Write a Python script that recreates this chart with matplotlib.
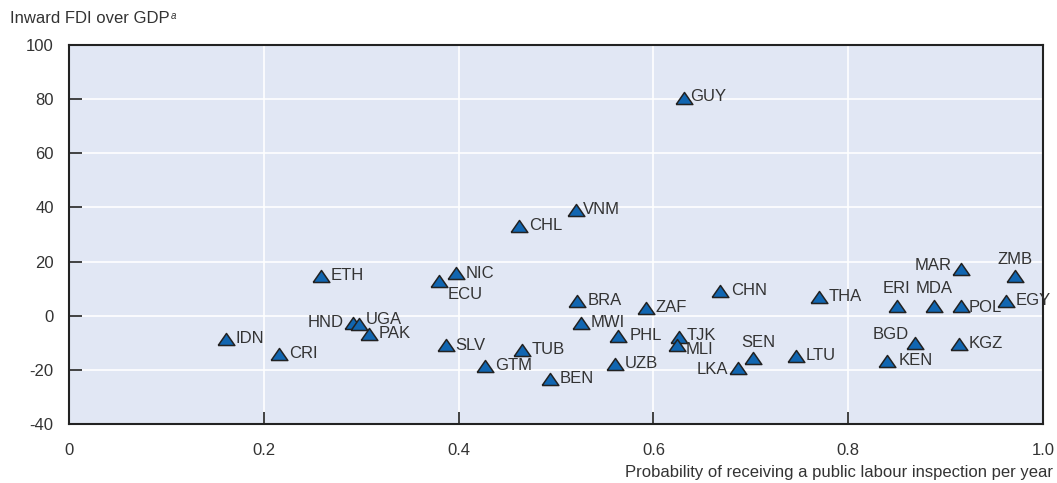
import matplotlib
matplotlib.use("Agg")
from matplotlib import pyplot as plt

# countries and values
codes = ["IDN", "CRI", "ETH", "HND", "UGA", "PAK", "SLV", "ECU", "NIC", "GTM",
         "TUB", "BEN", "CHL", "VNM", "BRA", "MWI", "PHL", "UZB", "ZAF", "GUY",
         "TJK", "MLI", "CHN", "LKA", "SEN", "LTU", "THA", "ERI", "MDA", "POL",
         "MAR", "ZMB", "EGY", "BGD", "KEN", "KGZ"]
inspection_prob = [0.161, 0.216, 0.259, 0.292, 0.298, 0.308, 0.387, 0.380, 0.397, 0.427,
                   0.465, 0.494, 0.462, 0.520, 0.522, 0.526, 0.564, 0.561, 0.592, 0.631,
                   0.626, 0.624, 0.668, 0.687, 0.702, 0.746, 0.770, 0.850, 0.888, 0.916,
                   0.916, 0.971, 0.962, 0.869, 0.840, 0.914]
fdi_gdp = [-8.5, -14.0, 14.8, -2.6, -3.0, -6.7, -11.0, 13.0, 15.6, -18.5,
           -12.6, -23.3, 33.3, 38.9, 5.6, -2.6, -7.4, -17.8, 3.0, 80.4,
           -7.8, -11.0, 9.3, -19.3, -15.6, -14.8, 7.0, 3.7, 3.7, 3.7,
           17.4, 14.8, 5.6, -10.0, -16.7, -10.4]

x_ticks = [0, 0.2, 0.4, 0.6, 0.8, 1.0]
x_tick_labels = ["0", "0.2", "0.4", "0.6", "0.8", "1.0"]
y_ticks = [-40, -20, 0, 20, 40, 60, 80, 100]

# label placement (offset in points, alignment) - default is right of marker
label_place = {
    "HND": ((-7, 0), "right", "center"),
    "MAR": ((-7, 2), "right", "center"),
    "LKA": ((-7, -1), "right", "center"),
    "BGD": ((-5, 6), "right", "center"),
    "ERI": ((0, 7), "center", "bottom"),
    "MDA": ((0, 7), "center", "bottom"),
    "ZMB": ((0, 6), "center", "bottom"),
    "SEN": ((4, 6), "center", "bottom"),
    "ECU": ((6, -10), "left", "center"),
    "MLI": ((6, -3), "left", "center"),
    "UGA": ((5, 3), "left", "center"),
    "TJK": ((6, 1), "left", "center"),
    "POL": ((5, -1), "left", "center"),
    "VNM": ((5, 1), "left", "center"),
    "GUY": ((5, 1), "left", "center"),
    "PHL": ((8, 0), "left", "center"),
    "KEN": ((8, 0), "left", "center"),
    "CHN": ((8, 0), "left", "center"),
}

plt.rcParams["font.family"] = ["Liberation Sans Narrow", "Liberation Sans", "DejaVu Sans"]
plt.rcParams["axes.unicode_minus"] = False
text_col = "#333333"

# wide, flat triangle like the original marker
tri = [(-1, -0.72), (1, -0.72), (0, 0.72), (-1, -0.72)]

fig = plt.figure(figsize=(10.57, 4.83), dpi=100)
ax = fig.add_axes([0.0653, 0.1222, 0.9215, 0.7846])
ax.set_facecolor("#e1e7f4")

ax.plot(inspection_prob, fdi_gdp, linestyle="none", marker=tri, markersize=12,
        markerfacecolor="#1166b1", markeredgecolor="#222222", markeredgewidth=1.1,
        zorder=3)

for code, xv, yv in zip(codes, inspection_prob, fdi_gdp):
    off, ha, va = label_place.get(code, ((7, 0), "left", "center"))
    ax.annotate(code, (xv, yv), xytext=off, textcoords="offset points",
                ha=ha, va=va, fontsize=12, color=text_col, zorder=4)

ax.set_xlim(0, 1.0)
ax.set_ylim(-40, 100)
ax.set_xticks(x_ticks)
ax.set_xticklabels(x_tick_labels)
ax.set_yticks(y_ticks)
ax.grid(True, color="white", linewidth=1.2)
ax.set_axisbelow(True)

for s in ax.spines.values():
    s.set_color("#222222")
    s.set_linewidth(1.5)

ax.tick_params(axis="both", direction="in", length=9, width=1.2,
               color="#222222", labelsize=12, labelcolor=text_col)
ax.tick_params(axis="x", pad=14)
ax.tick_params(axis="y", pad=11)

ylab = fig.text(0.0095, 0.962, "Inward FDI over GDP", fontsize=12, color=text_col,
                ha="left", va="center")
# superscript footnote marker
ax.annotate("a", xy=(1, 1), xycoords=ylab, xytext=(1, 0), textcoords="offset points",
            ha="left", va="top", fontsize=7, style="italic", color=text_col,
            annotation_clip=False)
fig.text(0.996, 0.022, "Probability of receiving a public labour inspection per year",
         fontsize=12, color=text_col, ha="right", va="center")

fig.savefig("out.png", dpi=100)
